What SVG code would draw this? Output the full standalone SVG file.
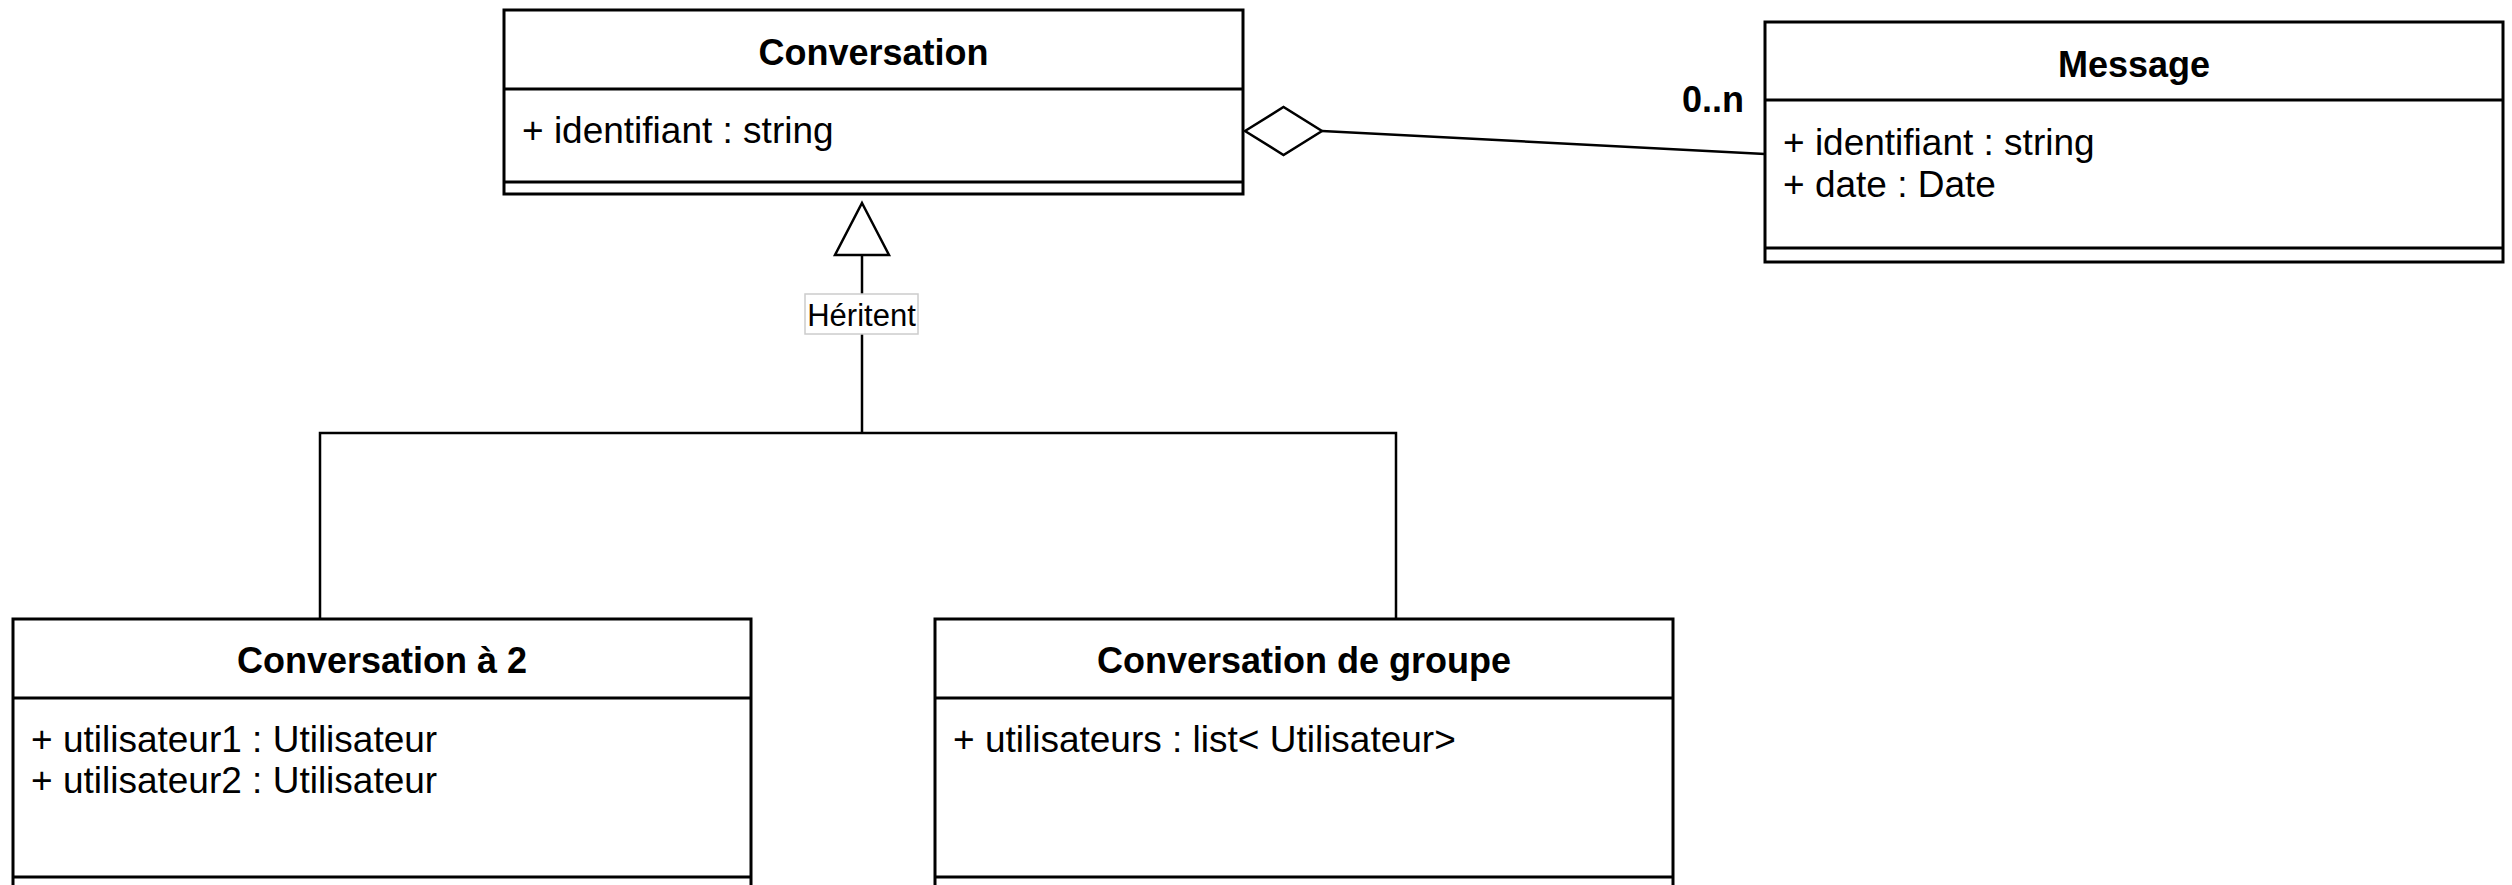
<svg xmlns="http://www.w3.org/2000/svg" width="2512" height="885" viewBox="0 0 2512 885">
<style>
.box{fill:#ffffff;stroke:#000000;stroke-width:3}
.div{stroke:#000000;stroke-width:3;fill:none}
.title{font-family:"Liberation Sans",Arial,sans-serif;font-weight:bold;font-size:36px;fill:#000;text-anchor:middle}
.attr{font-family:"Liberation Sans",Arial,sans-serif;font-size:37px;fill:#000}
.conn{stroke:#000000;stroke-width:2.5;fill:none}
.lbl{font-family:"Liberation Sans",Arial,sans-serif;font-size:31px;fill:#000;text-anchor:middle}
</style>
<rect width="2512" height="885" fill="#ffffff"/>
<g id="connectors">
  <line class="conn" x1="1322" y1="131" x2="1765" y2="154"/>
  <polygon class="conn" points="1245,131 1283.5,107 1322,131 1283.5,155" fill="#ffffff"/>
  <line class="conn" x1="862" y1="255" x2="862" y2="433"/>
  <polygon class="conn" points="862,203 889,255 835,255" fill="#ffffff"/>
  <polyline class="conn" points="320,619 320,433 1396,433 1396,619"/>
  <rect x="805" y="294" width="113" height="40" fill="#ffffff" stroke="#cccccc" stroke-width="1.5"/>
  <text class="lbl" x="861.5" y="326">Héritent</text>
  <text class="title" x="1744" y="112" text-anchor="end" style="text-anchor:end">0..n</text>
</g>
<g id="conversation">
  <rect class="box" x="504" y="10" width="739" height="184"/>
  <line class="div" x1="504" y1="89" x2="1243" y2="89"/>
  <line class="div" x1="504" y1="182" x2="1243" y2="182"/>
  <text class="title" x="873.5" y="65">Conversation</text>
  <text class="attr" x="522" y="143">+ identifiant : string</text>
</g>
<g id="message">
  <rect class="box" x="1765" y="22" width="738" height="240"/>
  <line class="div" x1="1765" y1="100" x2="2503" y2="100"/>
  <line class="div" x1="1765" y1="248" x2="2503" y2="248"/>
  <text class="title" x="2134" y="77">Message</text>
  <text class="attr" x="1783" y="155">+ identifiant : string</text>
  <text class="attr" x="1783" y="197">+ date : Date</text>
</g>
<g id="conversation-a-2">
  <rect class="box" x="13" y="619" width="738" height="272"/>
  <line class="div" x1="13" y1="698" x2="751" y2="698"/>
  <line class="div" x1="13" y1="877" x2="751" y2="877"/>
  <text class="title" x="382" y="673">Conversation à 2</text>
  <text class="attr" x="31" y="752">+ utilisateur1 : Utilisateur</text>
  <text class="attr" x="31" y="793">+ utilisateur2 : Utilisateur</text>
</g>
<g id="conversation-de-groupe">
  <rect class="box" x="935" y="619" width="738" height="272"/>
  <line class="div" x1="935" y1="698" x2="1673" y2="698"/>
  <line class="div" x1="935" y1="877" x2="1673" y2="877"/>
  <text class="title" x="1304" y="673">Conversation de groupe</text>
  <text class="attr" x="953" y="752">+ utilisateurs : list&lt; Utilisateur&gt;</text>
</g>
</svg>
